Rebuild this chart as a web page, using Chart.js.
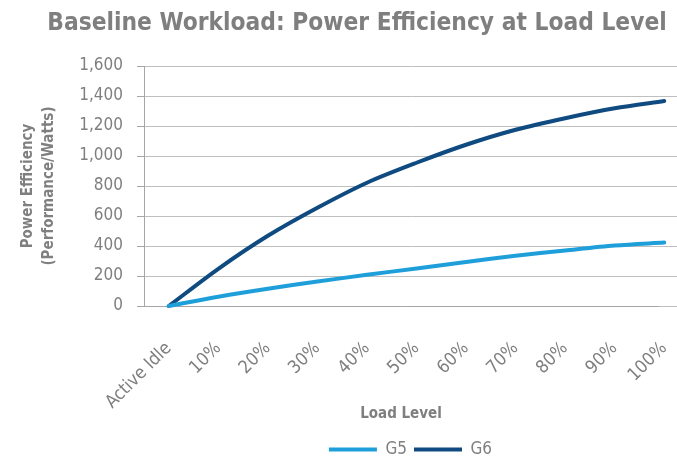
<!DOCTYPE html>
<html>
<head>
<meta charset="utf-8">
<script src="https://cdn.jsdelivr.net/npm/chart.js@4.4.1/dist/chart.umd.min.js"></script>
<style>
html,body{margin:0;padding:0;background:#fff;}
#wrap{width:677px;height:461px;position:relative;}
</style>
</head>
<body>
<div id="wrap"><canvas id="c" width="677" height="461"></canvas></div>
<script>
const titleText = 'Baseline Workload: Power Efficiency at Load Level';
const categories = ['Active Idle','10%','20%','30%','40%','50%','60%','70%','80%','90%','100%'];
const g5Values = [0, 62, 115, 163, 208, 250, 293, 335, 370, 403, 423];
const g6Values = [0, 248, 468, 655, 822, 955, 1075, 1175, 1252, 1318, 1366];
const yTicks = [0, 200, 400, 600, 800, 1000, 1200, 1400, 1600];
const yTitle = ['Power Efficiency', '(Performance/Watts)'];
const xTitle = 'Load Level';

const FONT = '"Liberation Sans Narrow", "DejaVu Sans Condensed", "Roboto Condensed", sans-serif';
const GRAY = '#7f7f7f';
const PLOT_RIGHT = 689;

const titlePlugin = {
  id: 'customTitle',
  afterDraw(chart) {
    const ctx = chart.ctx;
    ctx.save();
    ctx.font = 'bold 24.3px ' + FONT;
    ctx.fillStyle = GRAY;
    ctx.textAlign = 'center';
    ctx.textBaseline = 'middle';
    ctx.fillText(titleText, 357, 24);
    ctx.restore();
  }
};

// the reference plot area runs past the right edge of the image
const extendPlugin = {
  id: 'extendRight',
  afterLayout(chart) {
    const ca = chart.chartArea;
    ca.right = PLOT_RIGHT;
    ca.width = ca.right - ca.left;
    const xs = chart.scales.x;
    xs.right = PLOT_RIGHT;
    xs.width = xs.right - xs.left;
    xs.configure();
    // keep the axis title centred where the reference has it
    xs.right = 658;
    xs.width = xs.right - xs.left;
    chart.scales.y.configure();
  }
};

new Chart(document.getElementById('c'), {
  type: 'line',
  data: {
    labels: categories,
    datasets: [
      { label: 'G5', data: g5Values, borderColor: '#1e9fda', backgroundColor: '#1e9fda', clip: false,
        borderWidth: 4, pointRadius: 0, tension: 0.3, borderCapStyle: 'round', borderJoinStyle: 'round' },
      { label: 'G6', data: g6Values, borderColor: '#0f4a80', backgroundColor: '#0f4a80', clip: false,
        borderWidth: 4, pointRadius: 0, tension: 0.3, borderCapStyle: 'round', borderJoinStyle: 'round' }
    ]
  },
  options: {
    responsive: false,
    animation: false,
    layout: { padding: { top: 66, right: 0, left: 10, bottom: -7 } },
    plugins: {
      title: { display: false },
      tooltip: { enabled: false },
      legend: {
        position: 'bottom',
        fullSize: false,
        labels: {
          usePointStyle: true,
          pointStyle: 'line',
          pointStyleWidth: 48,
          font: { family: FONT, size: 17 },
          color: GRAY,
          padding: 7
        }
      }
    },
    scales: {
      x: {
        offset: true,
        grid: { display: false, drawOnChartArea: false, tickLength: 6, offset: false },
        border: { display: true, color: '#a6a6a6', width: 1 },
        ticks: { minRotation: 45, maxRotation: 45, color: GRAY, font: { family: FONT, size: 18 }, padding: 26, autoSkip: false },
        title: { display: true, text: xTitle, color: GRAY, font: { family: FONT, size: 15, weight: 'bold' }, padding: { top: 4, bottom: 11 } },
        afterFit(s) { s.height = 437 - 309; s.paddingLeft = 0; s.paddingRight = 0; }
      },
      y: {
        min: 0, max: 1600,
        afterBuildTicks(s) { s.ticks = yTicks.map(v => ({ value: v })); },
        grid: { color: '#bfbfbf', lineWidth: 1, tickLength: 7, drawTicks: true, tickColor: '#a6a6a6' },
        border: { display: true, color: '#a6a6a6', width: 1 },
        ticks: {
          color: GRAY, font: { family: FONT, size: 17 }, padding: 14,
          callback: v => v.toLocaleString('en-US')
        },
        title: { display: true, text: yTitle, color: GRAY, font: { family: FONT, size: 15, weight: 'bold', lineHeight: 1.4 }, padding: { top: 8, bottom: 0 } },
        afterFit(s) { s.width = 144 - 10; s.paddingTop = 0; s.paddingBottom = 0; }
      }
    }
  },
  plugins: [titlePlugin, extendPlugin]
});
</script>
</body>
</html>
